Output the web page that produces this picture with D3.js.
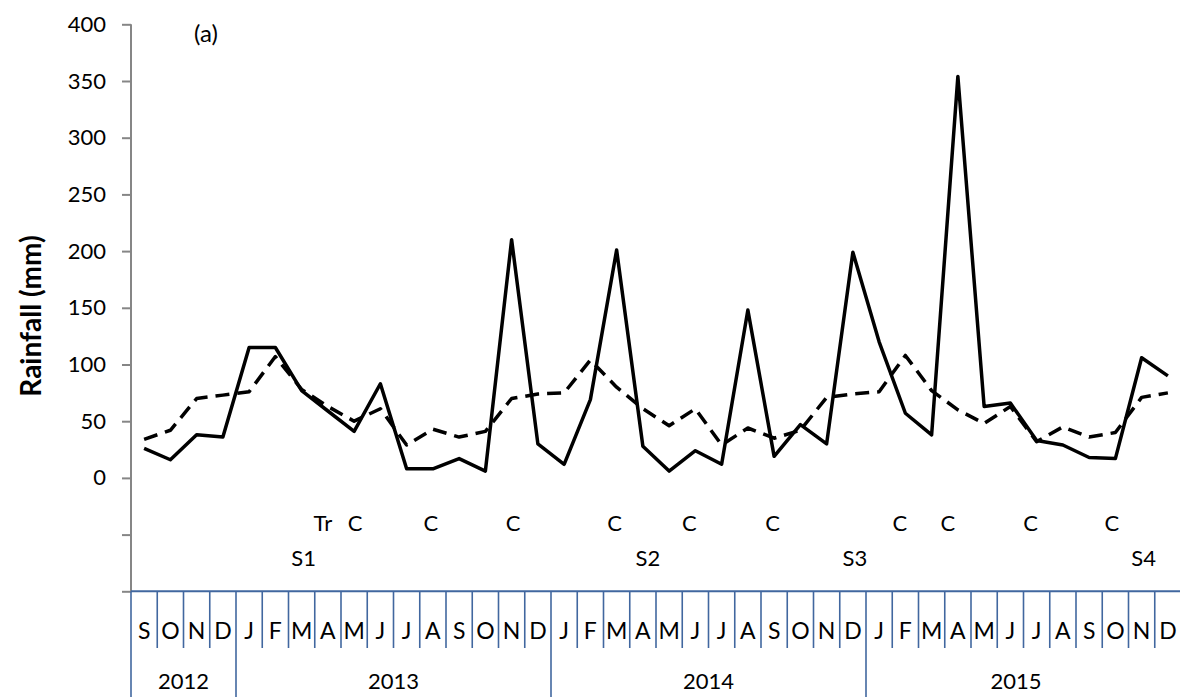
<!DOCTYPE html>
<html>
<head>
<meta charset="utf-8">
<script src="https://cdn.jsdelivr.net/npm/d3@7"></script>
<style>
  html, body { margin: 0; padding: 0; background: #ffffff; }
  svg { display: block; font-family: Lato, "Open Sans", sans-serif; }
</style>
</head>
<body>
<svg id="chart" width="1180" height="697"></svg>
<script>
// ---------------- data ----------------
const months = ["S","O","N","D",
  "J","F","M","A","M","J","J","A","S","O","N","D",
  "J","F","M","A","M","J","J","A","S","O","N","D",
  "J","F","M","A","M","J","J","A","S","O","N","D"];
const yearLabels = ["2012","2013","2014","2015"];
const yearMonthCounts = [4, 12, 12, 12];

// monthly rainfall (solid line), mm
const rainfall = [26, 16, 38, 36,
  115, 115, 77, 59, 41, 83, 8, 8, 17, 6, 210, 30,
  12, 69, 201, 28, 6, 24, 12, 148, 19, 47, 30, 199,
  120, 57, 38, 354, 63, 66, 33, 29, 18, 17, 106, 90];

// long-term mean rainfall (dashed line), mm
const longTermMean = [34, 42, 70, 73,
  76, 107, 78, 63, 50, 61, 29, 43, 36, 41, 70, 74,
  75, 104, 80, 61, 46, 61, 29, 44, 35, 42, 71, 74,
  76, 108, 77, 60, 48, 63, 32, 45, 36, 40, 71, 75];

const yTickValues = [-100, -50, 0, 50, 100, 150, 200, 250, 300, 350, 400];
const yTickLabels = ["", "", "0", "50", "100", "150", "200", "250", "300", "350", "400"];

// event annotations (month index)
const eventLabels = ["Tr","C","C","C","C","C","C","C","C","C","C"];
const eventMonths = [7, 8, 11, 14, 18, 21, 24, 29, 31, 34, 37];
const surveyLabels = ["S1","S2","S3","S4"];
const surveyMonths = [6, 19, 27, 38];

// ---------------- layout ----------------
const eventNudge = [-5, 1, -2, 1.5, -2, -6, -1.5, -5.5, -10, -6, -3.5];
const surveyNudge = [2, 5, 2, 2];

const svg = d3.select("#chart");
const X0 = 131, X1 = 1181;
const x = d3.scaleBand().domain(d3.range(months.length)).range([X0, X1]).padding(0);
const y = d3.scaleLinear().domain([-100, 400]).range([591.3, 24.3]);
const cx = i => x(i) + x.bandwidth() / 2;

const gray = "#868686";
const blue = "#41679f";

// y axis
const yAxis = d3.axisLeft(y)
  .tickValues(yTickValues)
  .tickSize(9)
  .tickPadding(16)
  .tickFormat((d, i) => yTickLabels[i]);
const gy = svg.append("g").attr("transform", `translate(${X0},0)`).call(yAxis);
gy.selectAll(".tick line").attr("stroke", gray).attr("stroke-width", 2);
gy.selectAll(".tick text")
  .attr("fill", "#000").attr("font-size", 22).attr("font-family", "Lato, sans-serif");
gy.select(".domain").attr("stroke", gray).attr("stroke-width", 2)
  .attr("d", `M0,${y(400)}V${y(-100)}`);

// category axis (multi-level)
const axisY = y(-100);
const cat = svg.append("g");
cat.append("line")
  .attr("x1", X0).attr("x2", X1).attr("y1", axisY).attr("y2", axisY)
  .attr("stroke", blue).attr("stroke-width", 2);

const yearStarts = [];
{ let acc = 0; yearMonthCounts.forEach(c => { yearStarts.push(acc); acc += c; }); yearStarts.push(acc); }
const boundaries = d3.range(months.length + 1);
cat.selectAll("line.mb").data(boundaries).join("line")
  .attr("class", "mb")
  .attr("x1", k => k < months.length ? x(k) : X1)
  .attr("x2", k => k < months.length ? x(k) : X1)
  .attr("y1", axisY)
  .attr("y2", k => yearStarts.includes(k) ? 697 : 648)
  .attr("stroke", blue).attr("stroke-width", 1.6);

cat.selectAll("text.m").data(months).join("text")
  .attr("class", "m")
  .attr("x", (d, i) => cx(i))
  .attr("y", 639)
  .attr("text-anchor", "middle")
  .attr("font-size", 23)
  .attr("fill", "#000")
  .text(d => d);

cat.selectAll("text.yr").data(yearLabels).join("text")
  .attr("class", "yr")
  .attr("x", (d, i) => {
    const a = x(yearStarts[i]);
    const bIdx = yearStarts[i + 1];
    const b = bIdx < months.length ? x(bIdx) : X1;
    return (a + Math.min(b, 1166)) / 2;
  })
  .attr("y", 689)
  .attr("text-anchor", "middle")
  .attr("font-size", 22)
  .attr("fill", "#000")
  .text(d => d);

// lines
const line = d3.line().x((d, i) => cx(i)).y(d => y(d));
svg.append("path").datum(longTermMean)
  .attr("d", line)
  .attr("fill", "none")
  .attr("stroke", "#000")
  .attr("stroke-width", 3.5)
  .attr("stroke-dasharray", "14,8")
  .attr("stroke-linejoin", "round");
svg.append("path").datum(rainfall)
  .attr("d", line)
  .attr("fill", "none")
  .attr("stroke", "#000")
  .attr("stroke-width", 3.5)
  .attr("stroke-linejoin", "round");

// annotations
svg.selectAll("text.ev").data(eventLabels).join("text")
  .attr("class", "ev")
  .attr("x", (d, i) => cx(eventMonths[i]) + eventNudge[i])
  .attr("y", 531)
  .attr("text-anchor", "middle")
  .attr("font-size", 22)
  .attr("fill", "#000")
  .text(d => d);
svg.selectAll("text.sv").data(surveyLabels).join("text")
  .attr("class", "sv")
  .attr("x", (d, i) => cx(surveyMonths[i]) + surveyNudge[i])
  .attr("y", 566)
  .attr("text-anchor", "middle")
  .attr("font-size", 22)
  .attr("fill", "#000")
  .text(d => d);

svg.append("text")
  .attr("x", 194).attr("y", 42)
  .attr("font-size", 24)
  .attr("fill", "#000")
  .text("(a)");

// y title
svg.append("text")
  .attr("transform", "translate(41,316) rotate(-90)")
  .attr("text-anchor", "middle")
  .attr("font-size", 28)
  .attr("font-weight", "bold")
  .attr("fill", "#000")
  .text("Rainfall (mm)");
</script>
</body>
</html>
